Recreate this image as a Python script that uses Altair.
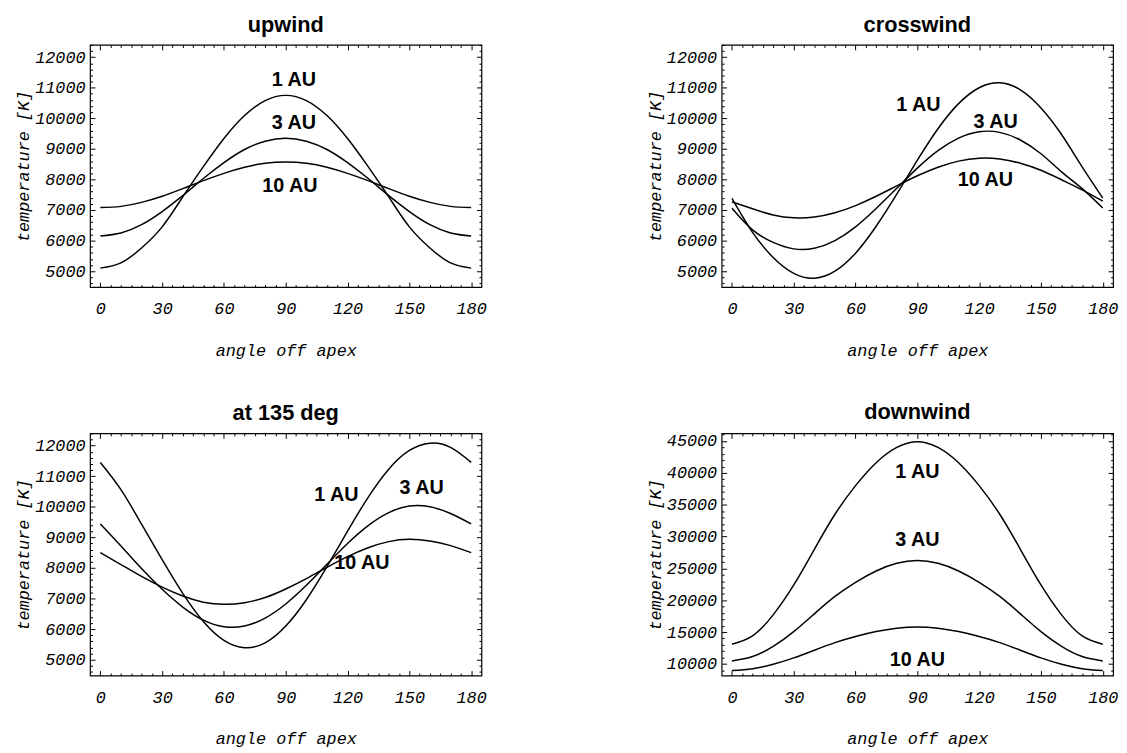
import altair as alt
import pandas as pd

angles = [0, 10, 20, 30, 40, 50, 60, 70, 80, 90, 100, 110, 120, 130, 140, 150, 160, 170, 180]
dists = ["1 AU", "3 AU", "10 AU"]

upwind_1 = [5100, 5270, 5760, 6450, 7430, 8420, 9340, 10090, 10580, 10750, 10580, 10090, 9340, 8420, 7430, 6450, 5760, 5270, 5100]
upwind_3 = [6150, 6250, 6520, 6950, 7470, 8030, 8550, 8980, 9250, 9350, 9250, 8980, 8550, 8030, 7470, 6950, 6520, 6250, 6150]
upwind_10 = [7080, 7120, 7250, 7450, 7700, 7960, 8200, 8400, 8530, 8570, 8530, 8400, 8200, 7960, 7700, 7450, 7250, 7120, 7080]

cross_1 = [7380, 6270, 5450, 4930, 4770, 5000, 5590, 6470, 7520, 8630, 9660, 10480, 11000, 11160, 10930, 10340, 9470, 8410, 7390]
cross_3 = [7060, 6350, 5940, 5730, 5750, 6000, 6450, 7050, 7710, 8370, 8940, 9350, 9560, 9540, 9290, 8840, 8250, 7700, 7065]
cross_10 = [7270, 7040, 6840, 6745, 6770, 6910, 7145, 7450, 7790, 8120, 8400, 8600, 8695, 8670, 8530, 8300, 7990, 7660, 7290]

d135_1 = [11450, 10560, 9430, 8270, 7170, 6250, 5630, 5390, 5550, 6100, 6960, 8040, 9200, 10310, 11230, 11840, 12080, 11940, 11450]
d135_3 = [9440, 8720, 7980, 7300, 6720, 6290, 6075, 6100, 6360, 6820, 7430, 8120, 8800, 9385, 9810, 10025, 10000, 9780, 9440]
d135_10 = [8500, 8110, 7720, 7370, 7080, 6880, 6810, 6860, 7030, 7310, 7650, 8020, 8370, 8660, 8860, 8935, 8880, 8730, 8500]

down_1 = [13100, 14400, 17700, 22400, 28000, 33500, 38000, 41600, 44000, 44900, 44000, 41600, 38000, 33500, 28000, 22400, 17700, 14400, 13100]
down_3 = [10470, 11160, 12760, 15080, 17870, 20600, 22820, 24600, 25800, 26240, 25800, 24600, 22820, 20600, 17870, 15080, 12760, 11160, 10470]
down_10 = [8960, 9260, 9950, 10950, 12160, 13350, 14310, 15080, 15600, 15790, 15600, 15080, 14310, 13350, 12160, 10950, 9950, 9260, 8960]

# label anchor points (data units)
up_lx = [94, 94, 92]
up_ly = [11260, 9840, 7770]
cr_lx = [90.5, 128, 123]
cr_ly = [10420, 9870, 7970]
d135_lx = [114.6, 156, 127]
d135_ly = [10380, 10600, 8150]
dn_lx = [90, 90, 90]
dn_ly = [40170, 29460, 10670]

x_major = [0, 30, 60, 90, 120, 150, 180]
x_minor = list(range(0, 181, 5))
t_major = [5000, 6000, 7000, 8000, 9000, 10000, 11000, 12000]
t_minor = list(range(4600, 12401, 200))
dn_major = [10000, 15000, 20000, 25000, 30000, 35000, 40000, 45000]
dn_minor = list(range(9000, 46001, 1000))

W, H = 396, 245
MONO = "Liberation Mono"
SANS = "Liberation Sans"


def make_df(series):
    rows = []
    for dist, vals in zip(dists, series):
        for a, v in zip(angles, vals):
            rows.append({"angle": a, "temp": v, "dist": dist})
    return pd.DataFrame(rows)


def panel(title, series, lx, ly, ydomain, ymajor, yminor, ystep):
    df = make_df(series)
    ldf = pd.DataFrame({"x": lx, "y": ly, "label": dists})
    xs = alt.Scale(domain=[-5, 185], nice=False, zero=False)
    ys = alt.Scale(domain=ydomain, nice=False, zero=False)
    tick_x = {"condition": {"test": "datum.value % 30 === 0", "value": 5}, "value": 2.5}
    tick_y = {"condition": {"test": f"datum.value % {ystep} === 0", "value": 5}, "value": 2.5}
    base = alt.Chart(df)
    lines = base.mark_line(color="black", strokeWidth=1.5, interpolate="natural").encode(
        x=alt.X("angle:Q", scale=xs, axis=alt.Axis(values=x_major, ticks=False, domain=False, grid=False,
                                                   labelPadding=14, title="angle off apex", titlePadding=26,
                                                   format="d")),
        y=alt.Y("temp:Q", scale=ys, axis=alt.Axis(values=ymajor, ticks=False, domain=False, grid=False,
                                                  labelPadding=5, title="temperature [K]", titlePadding=2,
                                                  format="d")),
        detail="dist:N",
    )
    ticks_a = base.mark_line(opacity=0).encode(
        x=alt.X("angle:Q", scale=xs, axis=alt.Axis(orient="top", offset=-H, values=x_minor, labels=False,
                                                   domain=False, grid=False, title=None, tickSize=tick_x,
                                                   tickColor="black")),
        y=alt.Y("temp:Q", scale=ys, axis=alt.Axis(orient="right", offset=-W, values=yminor, labels=False,
                                                  domain=False, grid=False, title=None, tickSize=tick_y,
                                                  tickColor="black")),
        detail="dist:N",
    )
    ticks_b = base.mark_line(opacity=0).encode(
        x=alt.X("angle:Q", scale=xs, axis=alt.Axis(orient="bottom", offset=-H, values=x_minor, labels=False,
                                                   domain=False, grid=False, title=None, tickSize=tick_x,
                                                   tickColor="black")),
        y=alt.Y("temp:Q", scale=ys, axis=alt.Axis(orient="left", offset=-W, values=yminor, labels=False,
                                                  domain=False, grid=False, title=None, tickSize=tick_y,
                                                  tickColor="black")),
        detail="dist:N",
    )
    text = alt.Chart(ldf).mark_text(font=SANS, fontWeight="bold", fontSize=20, color="black",
                                    align="center", baseline="middle").encode(
        x=alt.X("x:Q", scale=xs, axis=None),
        y=alt.Y("y:Q", scale=ys, axis=None),
        text="label:N",
    )
    return alt.layer(lines, ticks_a, ticks_b, text).resolve_axis(
        x="independent", y="independent"
    ).properties(
        width=W, height=H,
        title=alt.Title(title, font=SANS, fontSize=22, fontWeight="bold", color="black",
                        anchor="middle", frame="group", offset=8),
    )


p1 = panel("upwind", [upwind_1, upwind_3, upwind_10], up_lx, up_ly, [4480, 12400], t_major, t_minor, 1000)
p2 = panel("crosswind", [cross_1, cross_3, cross_10], cr_lx, cr_ly, [4480, 12400], t_major, t_minor, 1000)
p3 = panel("at 135 deg", [d135_1, d135_3, d135_10], d135_lx, d135_ly, [4480, 12400], t_major, t_minor, 1000)
p4 = panel("downwind", [down_1, down_3, down_10], dn_lx, dn_ly, [8180, 46200], dn_major, dn_minor, 5000)

chart = alt.vconcat(
    alt.hconcat(p1, p2, spacing=160),
    alt.hconcat(p3, p4, spacing=160),
    spacing=42,
).properties(
    padding={"left": 6, "top": 0, "right": 0, "bottom": 0},
    background="white",
).configure_view(
    stroke="black", strokeWidth=1.2
).configure_axis(
    labelFont=MONO, labelFontStyle="italic", labelFontSize=17, labelColor="black",
    titleFont=MONO, titleFontStyle="italic", titleFontWeight="normal", titleFontSize=17, titleColor="black",
)

chart.save("out.html", embed_options={"renderer": "svg", "actions": False})
